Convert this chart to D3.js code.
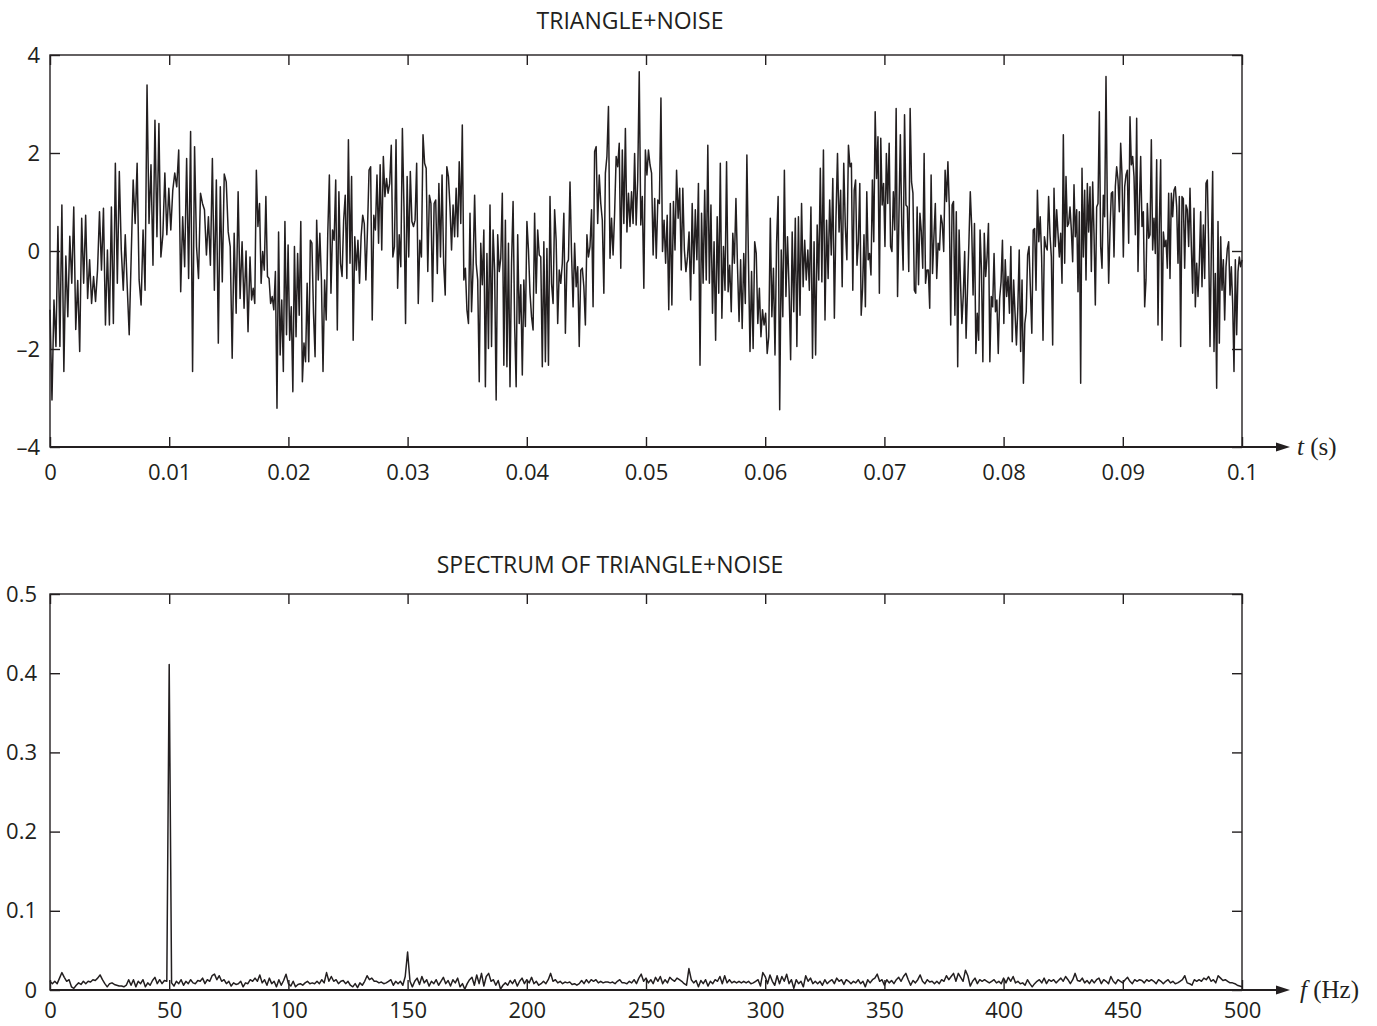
<!DOCTYPE html>
<html>
<head>
<meta charset="utf-8">
<script src="https://cdn.jsdelivr.net/npm/d3@7"></script>
<style>
body { margin: 0; background: #fff; }
svg { display: block; }
</style>
</head>
<body>
<svg id="chart" width="1377" height="1026"></svg>
<script>
// ---- data: triangle + noise in six stretches ----
var segEdges = [0, 0.016779, 0.033557, 0.050336, 0.067114, 0.083893, 0.1];

var seg1 = [-1.2,-3.04,-1.0,-1.95,0.5,-1.95,0.94,-2.46,-0.1,-1.34,
  0.3,-0.66,0.9,-1.6,-0.6,-2.05,0.67,-0.66,0.73,-0.97,
  -0.18,-1.07,-0.52,-1.03,-0.39,0.8,-0.39,0.87,-1.51,0.02,
  -1.51,0.9,-1.48,1.79,-0.66,1.62,0.02,-0.8,0.33,-0.73,
  -1.71,-0.12,1.45,0.56,1.79,-0.59,-1.1,0.43,-0.8,3.39,
  0.56,1.76,-0.29,2.67,0.29,2.6,-0.12,0.33,1.59,0.33,
  1.28,0.43,1.24,1.59,1.31,2.06,-0.83,0.7,-0.32,1.89,
  -0.56,2.44,-2.46,2.13,0.09,-0.56,1.18,0.97,0.84,-0.08,
  0.7,-0.29,1.89,-0.8,1.45,-1.88,1.31,-0.63,1.57,1.41,
  0.39,0.09,-2.19,0.36,-1.27,1.21,-0.97,0.19,-1.17,0.0,
  -1.65];

var seg2 = [-0.12,-1.0,-0.76,-1.07,1.65,0.5,0.97,-0.66,-0.01,-0.39,
  1.11,-0.52,-0.56,-1.07,-0.93,-1.2,-0.42,-3.21,0.39,-2.12,
  -1.0,-2.46,0.6,-1.71,0.12,-1.82,-1.14,-2.87,0.09,-1.75,
  -0.05,-1.31,0.6,-2.67,-1.88,-2.26,-0.66,-2.26,0.22,0.16,
  -1.27,-2.16,0.63,-0.59,0.36,-0.59,-2.46,-0.59,-1.41,0.36,
  1.55,-0.86,0.43,0.22,1.45,-1.61,1.21,-0.25,-0.52,0.63,
  1.14,-0.56,2.27,-0.25,1.52,-1.82,0.29,-0.39,0.22,-0.66,
  0.29,0.73,0.56,-0.59,0.43,1.65,1.72,-1.41,0.73,0.43,
  1.55,0.16,1.76,0.02,1.93,1.11,1.48,1.18,1.38,2.16,
  -0.12,0.09,2.27,-0.76,0.33,-0.32,2.5,0.9,-1.48,1.52,
  -0.12,1.62,0.6,0.5,0.63,1.79,-1.07,0.22,-0.12,2.37,
  1.79,1.69,-0.42,1.14,0.97,-1.03,0.97,1.04,-0.46,1.38,
  -0.12,1.55,-0.25,-0.9,1.72,1.52];

var seg3 = [0.90,0.02,0.94,0.29,1.28,0.29,1.82,0.56,2.57,-0.59,
  -0.35,-1.20,-1.48,0.77,-1.24,-0.35,1.14,-0.25,-0.59,-2.67,
  0.16,-0.69,0.43,-2.77,-0.05,-1.99,0.94,-1.95,0.43,-0.39,
  -3.04,0.33,-0.42,-0.15,1.18,-2.33,0.63,-2.36,0.16,-2.77,
  -0.25,1.01,-1.48,-2.77,0.33,-1.48,-0.69,-2.53,-0.59,-1.54,
  0.60,0.02,-0.86,-1.34,-1.61,0.77,-0.86,0.43,-0.08,-0.12,
  -2.36,0.19,-2.26,0.05,-2.33,1.11,-0.66,-1.07,0.84,0.22,
  -1.48,-0.39,-0.66,-0.25,0.77,-1.68,-0.25,-0.18,1.41,-0.05,
  -1.14,0.16,-0.73,-0.32,-1.95,-0.39,-0.35,-0.73,-1.51,0.33,
  -0.12,0.09,0.84,-1.14,2.03,2.13,0.56,1.55,0.97,0.63,
  -0.86,1.59,1.93,2.95,-0.15,0.67,-0.08,0.77,1.93,1.72,
  2.20,-0.35,2.06,0.56,2.50,0.39,1.18,0.50,1.21,0.56,
  1.99,0.53,1.45,3.66,0.53,1.11,-0.76,2.06,1.55,2.06];

var seg4 = [1.76,1.59,-0.08,1.07,-0.15,1.04,0.97,3.12,-0.01,0.63,
  -0.25,0.73,-1.20,0.97,-1.10,1.01,0.02,1.65,0.67,1.28,
  -0.39,1.28,0.02,-0.42,-0.12,0.39,-1.00,0.97,-0.46,0.84,
  -0.18,1.38,-2.33,0.77,-0.66,1.24,-0.59,2.16,-0.66,0.94,
  -1.27,0.19,-1.82,0.70,-0.86,1.79,-1.37,0.09,-0.80,1.82,
  -0.83,-0.29,-1.24,0.36,-0.25,1.07,-0.32,-1.44,-0.18,-1.58,
  -0.05,-1.07,1.96,-0.18,-2.05,-0.42,-1.99,0.19,-0.05,-1.48,
  -0.76,-1.75,-1.20,-1.51,-1.27,-2.09,-1.75,0.67,-1.34,-0.35,
  -2.12,0.16,1.11,-3.24,0.02,-1.34,1.65,-0.93,0.29,-0.76,
  -2.22,0.39,-1.24,0.67,-1.95,0.70,-1.31,0.97,-0.73,0.22,
  -0.59,0.02,-0.80,0.90,-2.19,0.19,-2.12,0.53,-0.59,1.69,
  -0.63,2.06,-1.41,0.63,-0.56,1.04,-0.08,1.48,-1.37,0.63,
  1.99,0.39,1.24,-0.73,1.79,0.50,-0.18,2.16];

var seg5 = [1.72,1.79,-0.80,1.24,1.45,-0.29,0.19,1.38,-1.31,-0.76,
  0.33,-1.14,1.21,-0.18,-0.05,-0.49,1.45,0.19,2.84,1.48,
  2.33,-0.86,2.30,0.94,1.38,0.09,1.99,0.97,2.20,0.09,
  -0.01,1.21,0.43,2.91,-0.93,0.73,2.37,0.53,-0.39,2.78,
  0.94,0.90,-0.42,2.91,1.41,1.18,-0.80,-0.86,0.90,-0.69,
  0.77,0.39,-0.35,1.99,-0.66,-0.39,-0.39,-1.17,1.55,-0.46,
  0.29,0.97,-0.56,0.16,0.02,0.73,0.56,-0.01,1.65,1.01,
  1.82,0.90,-1.51,0.94,1.01,-1.31,0.80,-2.36,0.43,-0.63,
  -1.48,-0.90,-0.01,-1.78,-0.80,0.16,1.21,0.50,-0.90,0.56,
  -2.09,-1.27,-1.82,0.43,-0.39,-2.26,0.36,-0.52,-0.12,0.56,
  -2.26,-0.93,-1.14,-0.05,-1.24,-1.00,-2.09,-0.97,-0.63,0.22,
  -1.48,-0.18,-0.93,-0.52,-1.27,0.09,-1.85,-0.59,-1.27,-1.92,
  -1.14,0.02,-2.05,-0.59,-2.70,-1.48,-1.24,-0.08,0.09,-0.80,
  -1.68,0.43,0.46,-0.80,1.24,0.19,0.70,-0.12,-1.82,0.29,
  0.09,0.02,1.11];

var seg6 = [0.33,-0.12,-1.92,1.28,0.09,0.84,0.36,-0.12,0.36,-0.66,
  2.37,-0.25,1.52,0.50,0.56,0.90,0.43,-0.22,1.35,0.29,
  0.84,-0.83,0.80,-2.70,1.69,-0.12,1.24,-0.59,1.38,0.39,
  1.31,-0.42,1.41,0.36,-1.10,0.90,0.97,2.84,0.09,-0.35,
  1.14,0.70,3.56,0.87,-0.66,0.43,1.18,1.21,-0.12,1.31,
  1.72,1.45,0.80,2.20,1.55,-0.12,1.31,1.55,1.65,0.16,
  2.74,1.76,1.93,1.52,0.33,2.71,-0.42,0.90,1.93,0.50,
  0.80,-1.14,-0.59,0.97,0.26,0.33,2.27,0.02,0.67,-0.05,
  1.86,-1.51,0.53,1.86,-1.82,0.39,0.09,0.22,-0.35,1.18,
  -0.56,1.18,0.70,1.24,1.31,0.90,-0.25,1.11,-1.95,1.11,
  1.07,-0.35,0.94,0.84,0.09,1.28,0.09,-0.86,0.87,-1.14,
  -0.25,-0.93,-0.25,0.80,-0.73,0.53,-0.56,1.38,1.45,0.09,
  -1.95,0.02,1.62,-2.05,-0.46,-2.80,0.60,-1.88,0.29,-0.80,
  -0.18,-1.41,-0.32,0.05,0.19,-0.90,-0.32,-1.07,-2.46,-0.18,
  -1.71,-0.42,-0.12,-0.32,-0.18];

// ---- data: magnitude spectrum, one value per Hz (0..500) ----
var spec0to49 = [0.011,0.008,0.011,0.008,0.015,0.022,0.016,0.011,0.013,0.004,
  0.002,0.006,0.009,0.007,0.011,0.008,0.011,0.010,0.013,0.012,
  0.015,0.019,0.013,0.008,0.004,0.008,0.009,0.007,0.006,0.005,
  0.005,0.004,0.006,0.013,0.006,0.013,0.004,0.011,0.008,0.013,
  0.004,0.009,0.006,0.012,0.016,0.008,0.013,0.008,0.012,0.011];
var spec50 = [0.411];
var spec51to149 = [0.009,0.005,0.011,0.008,0.013,0.006,0.011,0.008,0.013,0.009,
  0.008,0.012,0.011,0.015,0.008,0.013,0.011,0.018,0.020,0.013,
  0.018,0.011,0.013,0.008,0.011,0.005,0.009,0.007,0.008,0.011,
  0.004,0.009,0.008,0.013,0.011,0.015,0.011,0.019,0.009,0.013,
  0.006,0.015,0.008,0.011,0.004,0.013,0.006,0.012,0.020,0.008,
  0.005,0.011,0.004,0.007,0.008,0.006,0.009,0.011,0.008,0.009,
  0.008,0.011,0.008,0.013,0.009,0.022,0.011,0.017,0.011,0.013,
  0.008,0.011,0.012,0.008,0.011,0.006,0.004,0.008,0.003,0.009,
  0.006,0.011,0.018,0.013,0.015,0.011,0.011,0.009,0.010,0.008,
  0.009,0.011,0.013,0.006,0.011,0.008,0.011,0.006,0.017];
var spec150 = [0.048];
var spec151to171 = [0.011,0.004,0.011,0.015,0.007,0.017,0.009,0.013,0.005,0.011,
  0.008,0.013,0.006,0.011,0.016,0.008,0.012,0.005,0.013,0.009,0.015];
var spec172to339 = [0.004,0.008,0.001,0.008,0.013,0.016,0.006,0.019,0.008,0.021,
  0.005,0.017,0.021,0.011,0.013,0.006,0.012,0.001,0.006,0.009,
  0.006,0.012,0.008,0.013,0.005,0.011,0.015,0.008,0.013,0.009,
  0.016,0.008,0.011,0.006,0.008,0.011,0.008,0.013,0.021,0.011,
  0.013,0.009,0.011,0.008,0.010,0.009,0.010,0.007,0.008,0.006,
  0.008,0.012,0.008,0.013,0.009,0.013,0.011,0.013,0.009,0.011,
  0.009,0.010,0.010,0.009,0.010,0.008,0.011,0.013,0.009,0.009,
  0.008,0.011,0.009,0.013,0.008,0.015,0.020,0.011,0.015,0.009,
  0.013,0.008,0.016,0.011,0.017,0.008,0.013,0.009,0.016,0.013,
  0.011,0.015,0.013,0.011,0.008,0.006,0.027,0.013,0.009,0.012,
  0.004,0.012,0.008,0.013,0.005,0.011,0.008,0.013,0.011,0.017,
  0.008,0.018,0.009,0.013,0.009,0.011,0.009,0.011,0.009,0.011,
  0.009,0.011,0.008,0.009,0.011,0.013,0.005,0.022,0.017,0.008,
  0.019,0.011,0.006,0.018,0.008,0.017,0.011,0.020,0.008,0.013,
  0.002,0.013,0.008,0.011,0.004,0.018,0.011,0.015,0.008,0.011,
  0.008,0.011,0.006,0.013,0.008,0.011,0.013,0.008,0.015,0.011,
  0.013,0.007,0.013,0.011,0.008,0.011,0.009,0.013];
var spec340to500 = [0.008,0.011,0.004,0.013,0.009,0.013,0.015,0.020,0.011,0.013,
  0.006,0.013,0.009,0.012,0.008,0.013,0.016,0.011,0.017,0.021,
  0.013,0.006,0.012,0.009,0.013,0.019,0.011,0.008,0.013,0.010,
  0.011,0.008,0.011,0.008,0.013,0.011,0.018,0.013,0.017,0.021,
  0.011,0.021,0.016,0.011,0.025,0.018,0.005,0.011,0.015,0.008,
  0.013,0.011,0.013,0.011,0.009,0.011,0.013,0.009,0.011,0.008,
  0.015,0.009,0.016,0.011,0.017,0.009,0.011,0.008,0.009,0.006,
  0.013,0.008,0.004,0.008,0.011,0.013,0.009,0.015,0.008,0.013,
  0.011,0.013,0.009,0.012,
  0.015,0.011,0.017,0.013,0.008,0.013,0.021,0.012,0.011,0.015,
  0.009,0.012,0.008,0.013,0.009,0.013,0.015,0.008,0.013,0.011,
  0.008,0.017,0.011,0.008,0.013,0.011,0.009,0.013,0.016,0.011,
  0.008,0.013,0.011,0.013,0.012,0.009,0.013,0.011,0.013,0.011,
  0.008,0.013,0.011,0.008,0.011,0.013,0.009,0.011,0.008,0.009,
  0.011,0.013,0.018,0.009,0.008,0.006,0.013,0.011,0.013,0.011,
  0.015,0.013,0.017,0.011,0.013,0.009,0.018,0.015,0.012,0.013,
  0.011,0.009,0.009,0.008,0.006,0.005,0.004];

// ---- ticks ----
var tTicks = [0,0.01,0.02,0.03,0.04,0.05,0.06,0.07,0.08,0.09,0.1];
var tLabels = ["0","0.01","0.02","0.03","0.04","0.05","0.06","0.07","0.08","0.09","0.1"];
var vTicks = [-4,-2,0,2,4];
var vLabels = ["\u20134","\u20132","0","2","4"];
var fTicks = [0,50,100,150,200,250,300,350,400,450,500];
var fLabels = ["0","50","100","150","200","250","300","350","400","450","500"];
var aTicks = [0,0.1,0.2,0.3,0.4,0.5];
var aLabels = ["0","0.1","0.2","0.3","0.4","0.5"];

// build the point lists
var wave = [];
[seg1, seg2, seg3, seg4, seg5, seg6].forEach(function(s, k) {
  var a = segEdges[k], b = segEdges[k + 1];
  var n = k === 5 ? s.length - 1 : s.length;
  s.forEach(function(v, i) { wave.push([a + (b - a) * i / n, v]); });
});
var specVals = [].concat(spec0to49, spec50, spec51to149, spec150, spec151to171, spec172to339, spec340to500);
var spectrum = specVals.map(function(v, i) { return [i, v]; });

var svg = d3.select("#chart");
var ink = "#231f20";
var font = "'Open Sans', sans-serif";

function panel(cfg) {
  var x = d3.scaleLinear().domain(cfg.xDomain).range([50, 1242]);
  var y = d3.scaleLinear().domain(cfg.yDomain).range([cfg.bottom, cfg.top]);
  var g = svg.append("g");

  g.append("path")
    .datum(cfg.data)
    .attr("fill", "none")
    .attr("stroke", ink)
    .attr("stroke-width", 1.5)
    .attr("stroke-linejoin", "round")
    .attr("d", d3.line().x(function(d) { return x(d[0]); }).y(function(d) { return y(d[1]); }));

  // frame
  g.append("rect")
    .attr("x", 50).attr("y", cfg.top)
    .attr("width", 1192).attr("height", cfg.bottom - cfg.top)
    .attr("fill", "none").attr("stroke", ink).attr("stroke-width", 1.4);

  function style(ax) {
    ax.select(".domain").remove();
    ax.selectAll("line").attr("stroke", ink).attr("stroke-width", 1.4);
    ax.selectAll("text").attr("fill", ink).attr("font-family", font).attr("font-size", 22);
  }

  g.append("g")
    .attr("transform", "translate(0," + cfg.bottom + ")")
    .call(d3.axisBottom(x).tickValues(cfg.xTicks)
      .tickFormat(function(d, i) { return cfg.xLabels[i]; })
      .tickSize(-10).tickSizeOuter(0).tickPadding(cfg.xPad))
    .call(style);

  g.append("g")
    .attr("transform", "translate(0," + cfg.top + ")")
    .call(d3.axisTop(x).tickValues(cfg.xTicks).tickFormat("").tickSize(-10).tickSizeOuter(0))
    .call(style);

  g.append("g")
    .attr("transform", "translate(50,0)")
    .call(d3.axisLeft(y).tickValues(cfg.yTicks)
      .tickFormat(function(d, i) { return cfg.yLabels[i]; })
      .tickSize(-10).tickSizeOuter(0).tickPadding(cfg.yPad))
    .call(style);

  g.append("g")
    .attr("transform", "translate(1242,0)")
    .call(d3.axisRight(y).tickValues(cfg.yTicks).tickFormat("").tickSize(-10).tickSizeOuter(0))
    .call(style);

  // x axis line running out to the arrow
  g.append("line")
    .attr("x1", 50).attr("x2", 1280)
    .attr("y1", cfg.bottom).attr("y2", cfg.bottom)
    .attr("stroke", ink).attr("stroke-width", 2);
  g.append("path")
    .attr("d", "M1290," + cfg.bottom + "L1276," + (cfg.bottom - 4.5) + "L1276," + (cfg.bottom + 4.5) + "Z")
    .attr("fill", ink);

  var lab = g.append("text")
    .attr("x", cfg.unitX).attr("y", cfg.bottom + 8)
    .attr("font-family", "'Liberation Serif', serif")
    .attr("font-size", 25)
    .attr("fill", ink);
  lab.append("tspan").attr("font-style", "italic").text(cfg.unitVar);
  lab.append("tspan").text(cfg.unitRest);

  g.append("text")
    .attr("x", cfg.titleX).attr("y", cfg.titleY)
    .attr("text-anchor", "middle")
    .attr("font-family", font).attr("font-size", 23)
    .attr("fill", ink)
    .text(cfg.title);
}

panel({
  data: wave, xDomain: [0, 0.1], yDomain: [-4, 4], top: 55, bottom: 447,
  xTicks: tTicks, xLabels: tLabels, yTicks: vTicks, yLabels: vLabels,
  xPad: 17, yPad: 10,
  unitX: 1297, unitVar: "t", unitRest: " (s)",
  title: "TRIANGLE+NOISE", titleX: 630, titleY: 29
});

panel({
  data: spectrum, xDomain: [0, 500], yDomain: [0, 0.5], top: 594, bottom: 990,
  xTicks: fTicks, xLabels: fLabels, yTicks: aTicks, yLabels: aLabels,
  xPad: 12, yPad: 13,
  unitX: 1300, unitVar: "f", unitRest: " (Hz)",
  title: "SPECTRUM OF TRIANGLE+NOISE", titleX: 610, titleY: 573
});
</script>
</body>
</html>
